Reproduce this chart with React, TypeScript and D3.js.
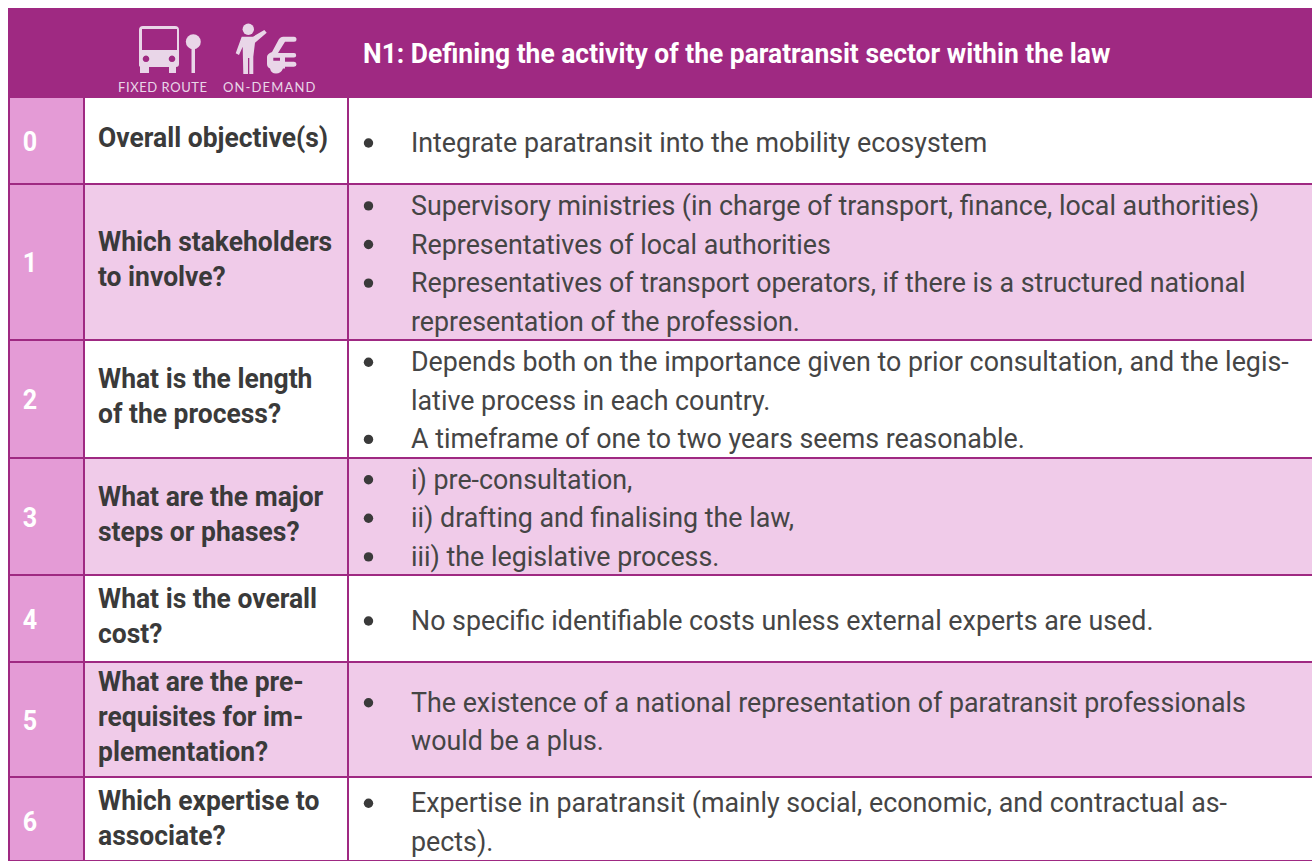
// App.tsx
import React from "react";
import * as d3 from "d3";

const rowNumbers = ["0", "1", "2", "3", "4", "5", "6"];
const rowHeights = [87, 156, 118, 117, 87, 115, 84];
const questions = [
  ["Overall objective(s)"],
  ["Which stakeholders", "to involve?"],
  ["What is the length", "of the process?"],
  ["What are the major", "steps or phases?"],
  ["What is the overall", "cost?"],
  ["What are the pre-", "requisites for im-", "plementation?"],
  ["Which expertise to", "associate?"],
];
const answers = [
  ["Integrate paratransit into the mobility ecosystem"],
  [
    "Supervisory ministries (in charge of transport, finance, local authorities)",
    "Representatives of local authorities",
    "Representatives of transport operators, if there is a structured national",
    "representation of the profession.",
  ],
  [
    "Depends both on the importance given to prior consultation, and the legis-",
    "lative process in each country.",
    "A timeframe of one to two years seems reasonable.",
  ],
  ["i) pre-consultation,", "ii) drafting and finalising the law,", "iii) the legislative process."],
  ["No specific identifiable costs unless external experts are used."],
  ["The existence of a national representation of paratransit professionals", "would be a plus."],
  ["Expertise in paratransit (mainly social, economic, and contractual as-", "pects)."],
];
// which answer lines start a new bullet
const bulletLines = [[0], [0, 1, 2], [0, 2], [0, 1, 2], [0], [0], [0]];
const title = "N1: Defining the activity of the paratransit sector within the law";
const iconLabels = ["FIXED ROUTE", "ON-DEMAND"];

const purple = "#9f2982";
const pinkDark = "#e49bd6";
const pinkLight = "#f0cbe9";
const ink = "#3a3a3a";
const answerInk = "#454545";
const iconInk = "#e9d6e8";

const WIDTH = 1312;
const HEIGHT = 861;
const tableTop = 8;
const headerBottom = 97;
const colLeft = 8;
const colNum = 84;
const colQuestion = 348;

// the last row is cut by the page edge, its text sits a little low
const lastRowShift = (i: number, by: number) => (i === rowNumbers.length - 1 ? by : 0);
// rows with three or more answer lines sit a touch higher
const answerShift = (i: number) => (answers[i].length >= 3 ? -0.7 : lastRowShift(i, 1));

// the source font is narrower than Roboto, so squeeze it sideways
const squeezed = (x: number, y: number, sx: number) => `translate(${x},${y}) scale(${sx},1)`;

const App: React.FC = () => {
  const edges = [0, ...d3.cumsum(rowHeights)];
  const y = d3
    .scaleLinear()
    .domain([0, d3.sum(rowHeights)])
    .range([headerBottom, headerBottom + d3.sum(rowHeights)]);
  const questionLine = 35;
  const answerLine = 38.6;

  return (
    <svg
      width={WIDTH}
      height={HEIGHT}
      style={{ position: "absolute", left: 0, top: 0, fontFamily: "Roboto" }}
    >
      <rect x={0} y={0} width={WIDTH} height={HEIGHT} fill="#fff" />
      <rect x={colLeft} y={tableTop} width={WIDTH - colLeft} height={headerBottom - tableTop} fill={purple} />

      {/* bus and stop icon */}
      <g fill={iconInk}>
        <path
          fillRule="evenodd"
          d="M143 26h32a4 4 0 0 1 4 4v34a3 3 0 0 1-3 3h0v6h-7v-6h-20v6h-9v-6a3 3 0 0 1-1-3V30a4 4 0 0 1 4-4zM142 29v21h35V29zM146 55.500a3.300 3.300 0 1 0 .01 0zM172 55.500a3.300 3.300 0 1 0 .01 0z"
        />
        <circle cx={193.300} cy={41.700} r={7.500} />
        <rect x={191.500} y={45} width={3.500} height={28} />
        {/* person hailing */}
        <circle cx={248.300} cy={29.300} r={5.700} />
        <path d="M241.700 36.700H253L264.300 30L266.700 32.700L255 42.700L253.300 56.700V74H249.300V58H248V74H243.300L242.700 46.700L239 55L235.700 53.300z" />
        {/* car */}
        <path
          fillRule="evenodd"
          d="M283 36.700H294a2.500 2.500 0 0 1 0 5H285L278 53H294a2.200 2.200 0 0 1 0 4.400H285V61.700H294a2.500 2.500 0 0 1 0 5H285V68.500H283Q281 73.500 276 73.500Q271 73.500 270 68.500Q267 67 267 64V57Q267 54 272 52L279 39Q281 36.700 283 36.700zM273.300 57.700V60.700H280V57.700z"
        />
      </g>
      <g fill={iconInk} fontFamily="Lato" fontSize={13}>
        <text x={118} y={92} letterSpacing={0.57}>{iconLabels[0]}</text>
        <text x={223} y={92} letterSpacing={1.14}>{iconLabels[1]}</text>
      </g>
      <text transform={squeezed(363, 63, 0.944)} fill="#fff" fontWeight={700} fontSize={28}>
        {title}
      </text>

      {rowNumbers.map((num, i) => {
        const top = y(edges[i]);
        const bottom = y(edges[i + 1]);
        const mid = (top + bottom) / 2;
        const qLines = questions[i];
        const aLines = answers[i];
        const qStart = mid - 3 + lastRowShift(i, 2) - ((qLines.length - 1) * questionLine) / 2;
        const aStart = mid + 1 + answerShift(i) - ((aLines.length - 1) * answerLine) / 2;
        return (
          <g key={num}>
            <rect x={colLeft} y={top} width={WIDTH - colLeft} height={bottom - top} fill={i % 2 === 1 ? pinkLight : "#fff"} />
            <rect x={colLeft} y={top} width={colNum - colLeft} height={bottom - top} fill={pinkDark} />
            <text transform={squeezed(30, mid + 10 + lastRowShift(i, 2), 0.93)} textAnchor="middle" fill="#fff" fontWeight={700} fontSize={27}>
              {num}
            </text>
            {qLines.map((line, j) => (
              <text key={j} transform={squeezed(98, qStart + j * questionLine + 9.500, 0.945)} fill={ink} fontWeight={700} fontSize={28}>
                {line}
              </text>
            ))}
            {aLines.map((line, j) => (
              <text key={j} transform={squeezed(411, aStart + j * answerLine + 10.500, 0.958)} fill={answerInk} fontWeight={400} fontSize={28}>
                {line}
              </text>
            ))}
            {bulletLines[i].map((j) => (
              <circle key={j} cx={368.500} cy={aStart + j * answerLine + 1.500} r={4.700} fill={ink} />
            ))}
          </g>
        );
      })}

      {/* grid lines */}
      <g stroke={purple} strokeWidth={2}>
        {edges.map((e) => (
          <line key={e} x1={colLeft} x2={WIDTH} y1={y(e)} y2={y(e)} />
        ))}
        <line x1={colLeft + 1} x2={colLeft + 1} y1={headerBottom} y2={HEIGHT} />
        <line x1={colNum} x2={colNum} y1={headerBottom} y2={HEIGHT} />
        <line x1={colQuestion} x2={colQuestion} y1={headerBottom} y2={HEIGHT} />
      </g>
    </svg>
  );
};

export default App;
